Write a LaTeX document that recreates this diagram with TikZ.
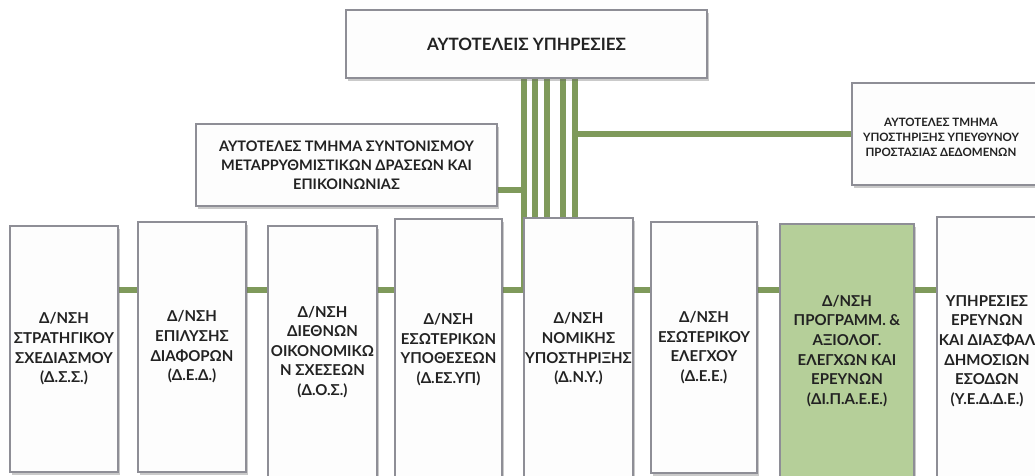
\documentclass[tikz,border=0pt]{standalone}
\usepackage{fontspec}
\setmainfont{Lato}
\usetikzlibrary{shadows,backgrounds}
\definecolor{linegreen}{HTML}{7F9A5B}
\definecolor{boxgreen}{HTML}{B5CF99}
\definecolor{boxline}{HTML}{8E8E96}
\definecolor{boxfill}{HTML}{FDFDFD}
\definecolor{txt}{HTML}{222222}
\begin{document}
\begin{tikzpicture}[x=1pt,y=-1pt,
  box/.style={rectangle, draw=boxline, line width=1.3pt, fill=boxfill, inner sep=0pt,
    align=center, text=txt,
    drop shadow={shadow xshift=2pt, shadow yshift=-2.5pt, opacity=0.35, fill=black!60}},
  unitbox/.style={box, font=\bfseries\fontsize{15}{19.6}\selectfont},
  conn/.style={draw=linegreen, line width=6pt},
]
\useasboundingbox (0,0) rectangle (1035,475);

% top-level and side boxes
\node[box, minimum width=361pt, minimum height=68pt, font=\bfseries\fontsize{17}{21}\selectfont]
  (top) at (526.5,44) {ΑΥΤΟΤΕΛΕΙΣ ΥΠΗΡΕΣΙΕΣ};
\node[box, minimum width=301pt, minimum height=82pt, font=\bfseries\fontsize{14.5}{19}\selectfont]
  (sync) at (346.5,165) {ΑΥΤΟΤΕΛΕΣ ΤΜΗΜΑ ΣΥΝΤΟΝΙΣΜΟΥ\\ΜΕΤΑΡΡΥΘΜΙΣΤΙΚΩΝ ΔΡΑΣΕΩΝ ΚΑΙ\\ΕΠΙΚΟΙΝΩΝΙΑΣ};
\node[box, minimum width=188pt, minimum height=102pt] (dpo) at (946,134) {};
\node[font=\bfseries\fontsize{11.5}{15}\selectfont, text=txt, align=center]
  (dpotext) at (941,137) {ΑΥΤΟΤΕΛΕΣ ΤΜΗΜΑ\\ΥΠΟΣΤΗΡΙΞΗΣ ΥΠΕΥΘΥΝΟΥ\\ΠΡΟΣΤΑΣΙΑΣ ΔΕΔΟΜΕΝΩΝ};

% directorate boxes
\node[unitbox, minimum width=108pt, minimum height=246pt] (b1) at (64,349)
  {Δ/ΝΣΗ\\ΣΤΡΑΤΗΓΙΚΟΥ\\ΣΧΕΔΙΑΣΜΟΥ\\(Δ.Σ.Σ.)};
\node[unitbox, minimum width=108pt, minimum height=250pt] (b2) at (192,347)
  {Δ/ΝΣΗ\\ΕΠΙΛΥΣΗΣ\\ΔΙΑΦΟΡΩΝ\\(Δ.Ε.Δ.)};
\node[unitbox, minimum width=109pt, minimum height=252pt] (b3) at (322.5,352)
  {Δ/ΝΣΗ\\ΔΙΕΘΝΩΝ\\ΟΙΚΟΝΟΜΙΚΩ\\Ν ΣΧΕΣΕΩΝ\\(Δ.Ο.Σ.)};
\node[unitbox, minimum width=107pt, minimum height=261pt] (b4) at (448.5,349.5)
  {Δ/ΝΣΗ\\ΕΣΩΤΕΡΙΚΩΝ\\ΥΠΟΘΕΣΕΩΝ\\(Δ.ΕΣ.ΥΠ)};
\node[unitbox, minimum width=109pt, minimum height=262pt] (b5) at (578.5,349)
  {Δ/ΝΣΗ\\ΝΟΜΙΚΗΣ\\ΥΠΟΣΤΗΡΙΞΗΣ\\(Δ.Ν.Υ.)};
\node[unitbox, minimum width=106pt, minimum height=251pt] (b6) at (704,347.5)
  {Δ/ΝΣΗ\\ΕΣΩΤΕΡΙΚΟΥ\\ΕΛΕΓΧΟΥ\\(Δ.Ε.Ε.)};
\node[unitbox, fill=boxgreen, minimum width=134pt, minimum height=254pt] (b7) at (847,351)
  {Δ/ΝΣΗ\\ΠΡΟΓΡΑΜΜ. \&\\ΑΞΙΟΛΟΓ.\\ΕΛΕΓΧΩΝ ΚΑΙ\\ΕΡΕΥΝΩΝ\\(ΔΙ.Π.Α.Ε.Ε.)};
\node[unitbox, minimum width=100pt, minimum height=268pt] (b8) at (987,351)
  {ΥΠΗΡΕΣΙΕΣ\\ΕΡΕΥΝΩΝ\\ΚΑΙ ΔΙΑΣΦΑΛ\\ΔΗΜΟΣΙΩΝ\\ΕΣΟΔΩΝ\\(Υ.Ε.Δ.Δ.Ε.)};

% connector coordinates
\coordinate (v1) at (524,290);
\coordinate (c2) at (535,0);
\coordinate (c3) at (547,0);
\coordinate (c4) at (563,0);
\coordinate (c5) at (575,0);
\coordinate (sj) at (497,190);
\coordinate (busL) at (63,290);
\coordinate (busR) at (998,290);

\begin{pgfonlayer}{background}
  \draw[conn] (busL) -- (busR);
  \draw[conn] (top.south -| v1) -- (v1);
  \draw[conn] (top.south -| c2) -- (b5.north -| c2);
  \draw[conn] (top.south -| c3) -- (b5.north -| c3);
  \draw[conn] (top.south -| c4) -- (b5.north -| c4);
  \draw[conn] (top.south -| c5) -- (b5.north -| c5);
  \draw[conn] ([xshift=-3pt]dpo.west -| c5) -- (dpo.west);
  \draw[conn] (sj) -- ([xshift=3pt]sj -| v1);
\end{pgfonlayer}
\end{tikzpicture}
\end{document}
